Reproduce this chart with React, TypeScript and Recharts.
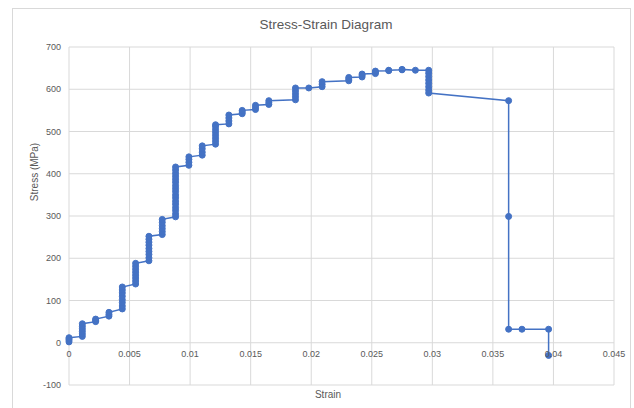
import React from 'react';
import { LineChart, Line, XAxis, YAxis, CartesianGrid } from 'recharts';

// strain value of each group of readings
const strainSteps = [
  0, 0.0011, 0.0022, 0.0033, 0.0044, 0.0055, 0.0066, 0.0077, 0.0088, 0.0099,
  0.011, 0.0121, 0.0132, 0.0143, 0.0154, 0.0165, 0.0187, 0.0198, 0.0209,
  0.0231, 0.0242, 0.0253, 0.0264, 0.0275, 0.0286, 0.0297, 0.0363, 0.0374, 0.0396,
];

// stress readings (MPa) recorded at each strain step, in order
const stressReadings = [
  [2, 6, 9, 12],
  [15, 21, 27, 33, 39, 45],
  [50, 53, 56],
  [63, 67, 72],
  [80, 87, 95, 102, 110, 118, 125, 132],
  [139, 146, 153, 160, 167, 174, 181, 188],
  [194, 201, 209, 216, 223, 231, 238, 245, 252],
  [256, 263, 270, 277, 285, 292],
  [298, 305, 313, 320, 328, 335, 343, 350, 358, 365, 372, 380, 387, 394, 401, 409, 416],
  [420, 427, 434, 440],
  [444, 451, 459, 466],
  [470, 477, 484, 491, 498, 505, 512, 516],
  [518, 525, 532, 539],
  [542, 546, 550],
  [552, 557, 562],
  [564, 568, 573],
  [575, 582, 589, 596, 603],
  [603],
  [606, 612, 618],
  [620, 624, 628],
  [629, 633, 636],
  [637, 640, 643],
  [644, 645],
  [646, 647],
  [645],
  [645, 638, 630, 622, 614, 606, 598, 591],
  [573, 299, 32],
  [32],
  [32, -30],
];

const xTicks = [0, 0.005, 0.01, 0.015, 0.02, 0.025, 0.03, 0.035, 0.04, 0.045];
const yTicks = [-100, 0, 100, 200, 300, 400, 500, 600, 700];

const data = strainSteps.flatMap((s, i) =>
  stressReadings[i].map((v) => ({ strain: s, stress: v }))
);

const W = 634;
const H = 408;
const MARGIN = { top: 47, right: 20, bottom: 3, left: 29 };
const X_AXIS_H = 20;
const Y_AXIS_W = 40;
const Y_MIN = -100;
const Y_MAX = 700;
const PLOT_H = H - MARGIN.top - MARGIN.bottom - X_AXIS_H;
const ZERO_Y = MARGIN.top + (PLOT_H * (Y_MAX - 0)) / (Y_MAX - Y_MIN);

const FONT = '"Liberation Sans", Arial, sans-serif';
const TXT = '#595959';
const BLUE = '#4472C4';

const XTick = (props: any) => {
  const { x, payload } = props;
  return (
    <text
      x={x}
      y={ZERO_Y + 14}
      textAnchor="middle"
      fontSize={9}
      fontFamily={FONT}
      fill={TXT}
    >
      {String(payload.value)}
    </text>
  );
};

export default function App() {
  return (
    <div
      style={{
        position: 'absolute',
        left: 0,
        top: 0,
        width: W,
        height: H,
        overflow: 'hidden',
        background: '#fff',
        fontFamily: FONT,
      }}
    >
      <div
        style={{
          position: 'absolute',
          left: 12,
          top: 8,
          width: 617,
          height: 420,
          border: '1px solid #D9D9D9',
        }}
      />
      <div style={{ position: 'absolute', left: 0, top: 0 }}>
        <LineChart width={W} height={H} data={data} margin={MARGIN}>
          <CartesianGrid stroke="#D9D9D9" strokeWidth={1} />
          <XAxis
            type="number"
            dataKey="strain"
            domain={[0, 0.045]}
            ticks={xTicks}
            interval={0}
            height={X_AXIS_H}
            axisLine={false}
            tickLine={false}
            tick={<XTick />}
          />
          <YAxis
            type="number"
            domain={[Y_MIN, Y_MAX]}
            ticks={yTicks}
            interval={0}
            width={Y_AXIS_W}
            axisLine={false}
            tickLine={false}
            tick={{ fontSize: 9, fill: TXT, fontFamily: FONT }}
          />
          <Line
            dataKey="stress"
            stroke={BLUE}
            strokeWidth={1.5}
            dot={{ r: 3, fill: BLUE, stroke: BLUE, strokeWidth: 1 }}
            isAnimationActive={false}
          />
        </LineChart>
      </div>
      <div
        style={{
          position: 'absolute',
          left: 0,
          width: 652,
          top: 17,
          textAlign: 'center',
          fontSize: 13.5,
          color: TXT,
          lineHeight: '16px',
        }}
      >
        Stress-Strain Diagram
      </div>
      <div
        style={{
          position: 'absolute',
          left: 35,
          top: 172,
          transform: 'translate(-50%, -50%) rotate(-90deg)',
          fontSize: 10,
          color: TXT,
          whiteSpace: 'nowrap',
          lineHeight: '12px',
        }}
      >
        Stress (MPa)
      </div>
      <div
        style={{
          position: 'absolute',
          left: 328,
          top: 395,
          transform: 'translate(-50%, -50%)',
          fontSize: 10,
          color: TXT,
          whiteSpace: 'nowrap',
          lineHeight: '12px',
        }}
      >
        Strain
      </div>
    </div>
  );
}
